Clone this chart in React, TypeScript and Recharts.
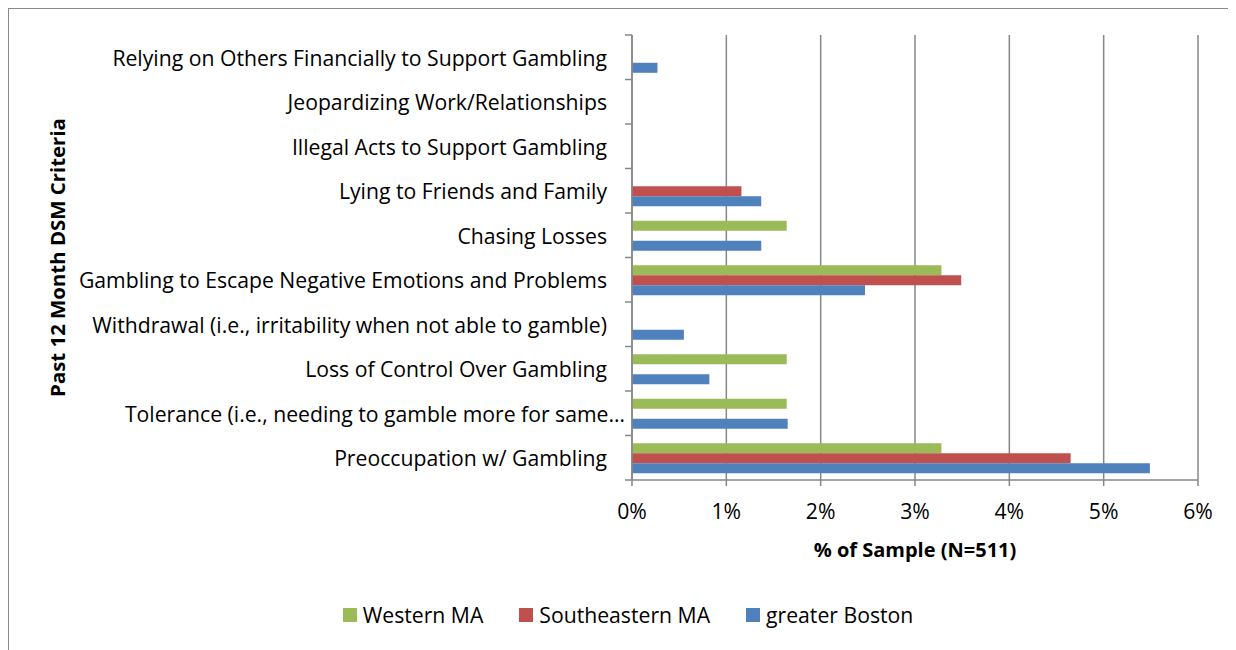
import { BarChart, Bar, XAxis, YAxis, CartesianGrid, Legend } from "recharts"

const criteria = [
  "Relying on Others Financially to Support Gambling",
  "Jeopardizing Work/Relationships",
  "Illegal Acts to Support Gambling",
  "Lying to Friends and Family",
  "Chasing Losses",
  "Gambling to Escape Negative Emotions and Problems",
  "Withdrawal (i.e., irritability when not able to gamble)",
  "Loss of Control Over Gambling",
  "Tolerance (i.e., needing to gamble more for same\u2026",
  "Preoccupation w/ Gambling",
]

const westernMA = [0, 0, 0, 0, 1.64, 3.28, 0, 1.64, 1.64, 3.28]
const southeasternMA = [0, 0, 0, 1.16, 0, 3.49, 0, 0, 0, 4.65]
const greaterBoston = [0.27, 0, 0, 1.37, 1.37, 2.47, 0.55, 0.82, 1.65, 5.49]

const seriesNames = ["Western MA", "Southeastern MA", "greater Boston"]
const seriesColors = ["#9BBB59", "#C0504D", "#4F81BD"]

const xTicks = [0, 1, 2, 3, 4, 5, 6]

const data = criteria.map((name, i) => ({
  name,
  western: westernMA[i],
  southeastern: southeasternMA[i],
  boston: greaterBoston[i],
}))

const FONT = "'Open Sans', sans-serif"
const AXIS_GRAY = "#878787"
const Y_WIDTH = 623

function CategoryTick(props: any) {
  const { y, payload, index } = props
  const half = payload.offset || 22.35
  const truncated = String(payload.value).endsWith("\u2026")
  return (
    <g>
      <line x1={Y_WIDTH - 7} x2={Y_WIDTH} y1={y - half} y2={y - half} stroke={AXIS_GRAY} strokeWidth={1.5} />
      {index === criteria.length - 1 && (
        <line x1={Y_WIDTH - 7} x2={Y_WIDTH} y1={y + half} y2={y + half} stroke={AXIS_GRAY} strokeWidth={1.5} />
      )}
      <text
        x={truncated ? Y_WIDTH - 7 : Y_WIDTH - 25}
        y={y}
        textAnchor="end"
        dominantBaseline="central"
        fontSize={21.2}
        fontFamily={FONT}
        fill="#000"
      >
        {payload.value}
      </text>
    </g>
  )
}

function LegendContent() {
  return (
    <div
      style={{
        display: "flex",
        justifyContent: "center",
        gap: 36,
        paddingLeft: 49,
        fontSize: 21.2,
        fontFamily: FONT,
        color: "#000",
      }}
    >
      {seriesNames.map((n, i) => (
        <div key={n} style={{ display: "flex", alignItems: "center", gap: 6 }}>
          <span style={{ width: 14, height: 14, background: seriesColors[i], display: "inline-block" }} />
          <span>{n}</span>
        </div>
      ))}
    </div>
  )
}

export default function App() {
  return (
    <div
      style={{
        width: 1228,
        height: 642,
        boxSizing: "border-box",
        borderTop: "1.5px solid #8a8a8a",
        borderLeft: "1.5px solid #8a8a8a",
        background: "#fff",
        fontFamily: FONT,
      }}
    >
      <BarChart
        width={1227}
        height={640}
        data={data}
        layout="vertical"
        margin={{ top: 26, right: 38, left: 0, bottom: 20 }}
        barCategoryGap="17.5%"
        barGap={0}
      >
        <CartesianGrid horizontal={false} stroke={AXIS_GRAY} strokeWidth={1.5} />
        <XAxis
          type="number"
          domain={[0, 6]}
          ticks={xTicks}
          tickFormatter={(v) => `${v}%`}
          stroke={AXIS_GRAY}
          strokeWidth={1.5}
          tickSize={6}
          tickMargin={18}
          tick={{ fontSize: 21.2, fill: "#000", fontFamily: FONT }}
          height={120}
          label={{
            value: "% of Sample (N=511)",
            position: "insideTop",
            offset: 63,
            style: { fontSize: 20, fontWeight: 700, fill: "#000", fontFamily: FONT },
          }}
        />
        <YAxis
          type="category"
          dataKey="name"
          width={Y_WIDTH}
          stroke={AXIS_GRAY}
          strokeWidth={1.5}
          tickLine={false}
          tick={<CategoryTick />}
          interval={0}
          label={{
            value: "Past 12 Month DSM Criteria",
            angle: -90,
            position: "insideLeft",
            offset: 49,
            style: { fontSize: 20.4, fontWeight: 700, fill: "#000", fontFamily: FONT, textAnchor: "middle" },
          }}
        />
        <Legend verticalAlign="bottom" content={<LegendContent />} />
        <Bar dataKey="western" name={seriesNames[0]} fill={seriesColors[0]} isAnimationActive={false} />
        <Bar dataKey="southeastern" name={seriesNames[1]} fill={seriesColors[1]} isAnimationActive={false} />
        <Bar dataKey="boston" name={seriesNames[2]} fill={seriesColors[2]} isAnimationActive={false} />
      </BarChart>
    </div>
  )
}
